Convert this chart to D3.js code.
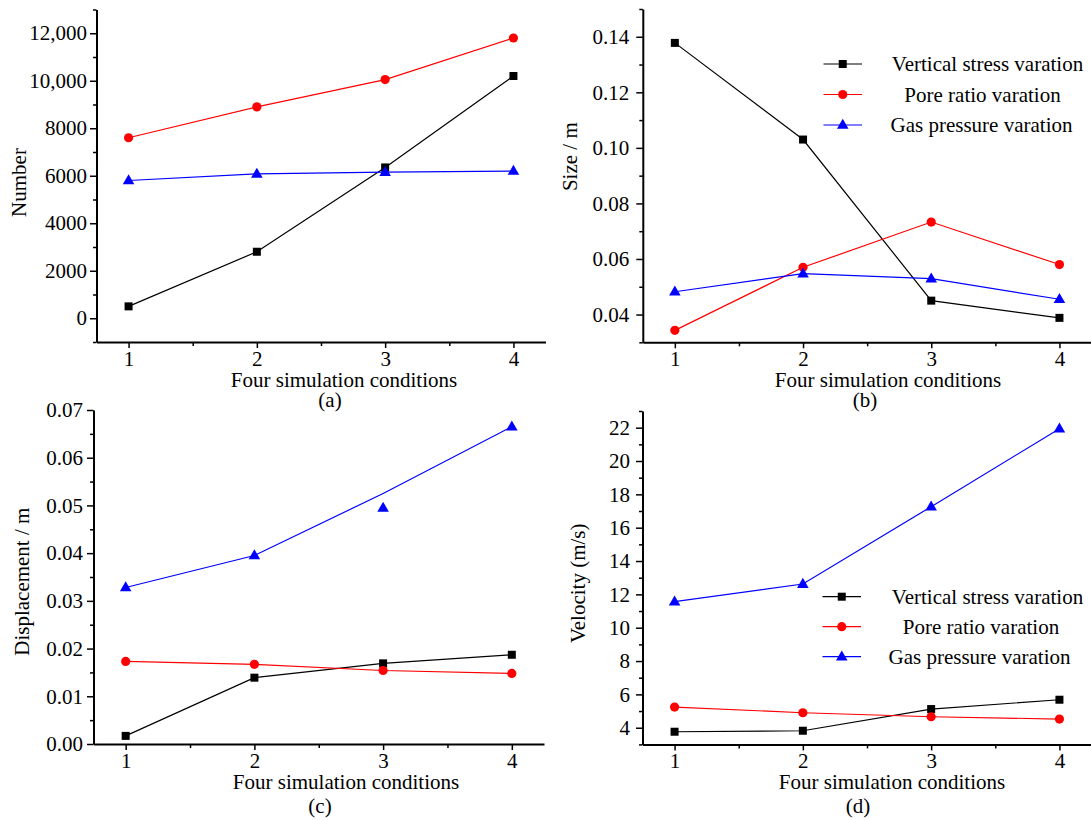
<!DOCTYPE html>
<html>
<head>
<meta charset="utf-8">
<script src="https://cdn.jsdelivr.net/npm/d3@7"></script>
<style>
  html, body { margin: 0; padding: 0; background: #fff; }
  svg { display: block; font-family: "Liberation Serif", "Times New Roman", serif; }
</style>
</head>
<body>
<svg id="chart" width="1091" height="820"></svg>
<script>
// ---------- data ----------
const conditions = [1, 2, 3, 4];
const conditionLabels = ["1", "2", "3", "4"];
const conditionMinor = [1.5, 2.5, 3.5];
const seriesNames = ["Vertical stress varation", "Pore ratio varation", "Gas pressure varation"];
const seriesColors = ["#000000", "#ff0000", "#0000ff"];

// (a) Number
const numberVertical = [500, 2800, 6350, 10200];
const numberPore = [7600, 8900, 10050, 11800];
const numberGas = [5800, 6080, 6150, 6200];
const numberTicks = [0, 2000, 4000, 6000, 8000, 10000, 12000];
const numberTickLabels = ["0", "2000", "4000", "6000", "8000", "10,000", "12,000"];
const numberMinor = [-1000, 1000, 3000, 5000, 7000, 9000, 11000, 13000];

// (b) Size / m
const sizeVertical = [0.1378, 0.103, 0.045, 0.0388];
const sizePore = [0.0343, 0.057, 0.0733, 0.058];
const sizeGas = [0.0482, 0.0547, 0.0529, 0.0455];
const sizeTicks = [0.04, 0.06, 0.08, 0.10, 0.12, 0.14];
const sizeTickLabels = ["0.04", "0.06", "0.08", "0.10", "0.12", "0.14"];
const sizeMinor = [0.03, 0.05, 0.07, 0.09, 0.11, 0.13, 0.15];

// (c) Displacement / m
const dispVertical = [0.0017, 0.0139, 0.0169, 0.0187];
const dispPore = [0.0173, 0.0167, 0.0154, 0.0148];
const dispGasLine = [0.0328, 0.0395, 0.0525, 0.0665];
const dispGasMarks = [0.0328, 0.0395, 0.0495, 0.0665];
const dispTicks = [0, 0.01, 0.02, 0.03, 0.04, 0.05, 0.06, 0.07];
const dispTickLabels = ["0.00", "0.01", "0.02", "0.03", "0.04", "0.05", "0.06", "0.07"];
const dispMinor = [0.005, 0.015, 0.025, 0.035, 0.045, 0.055, 0.065];

// (d) Velocity (m/s)
const velVertical = [3.76, 3.82, 5.12, 5.68];
const velPore = [5.24, 4.9, 4.66, 4.52];
const velGas = [11.56, 12.62, 17.26, 21.94];
const velTicks = [4, 6, 8, 10, 12, 14, 16, 18, 20, 22];
const velTickLabels = ["4", "6", "8", "10", "12", "14", "16", "18", "20", "22"];
const velMinor = [3, 5, 7, 9, 11, 13, 15, 17, 19, 21, 23];

// ---------- layout ----------
const panels = [
  { caption: "(a)", yTitle: "Number", left: 96.5, right: 545.5, top: 9.5, bottom: 342,
    yDomain: [-1000, 13000], yTicks: numberTicks, yLabels: numberTickLabels, yMinor: numberMinor, yPad: 3,
    lines: [numberVertical, numberPore, numberGas], marks: [numberVertical, numberPore, numberGas],
    yTitleX: 19, yTitleY: 182.5, xTitleX: 344, captionX: 330, xTitleY: 387, captionY: 407, legend: null },
  { caption: "(b)", yTitle: "Size / m", left: 642.8, right: 1091.5, top: 9, bottom: 342.3,
    yDomain: [0.03, 0.15], yTicks: sizeTicks, yLabels: sizeTickLabels, yMinor: sizeMinor, yPad: 7,
    lines: [sizeVertical, sizePore, sizeGas], marks: [sizeVertical, sizePore, sizeGas],
    yTitleX: 569.5, yTitleY: 156.7, xTitleX: 888, captionX: 865, xTitleY: 387, captionY: 407,
    legend: { lineX0: 823.5, lineX1: 862, textX: [987.5, 982.5, 981.5], y0: 64, dy: 30.5 } },
  { caption: "(c)", yTitle: "Displacement / m", left: 93.5, right: 544, top: 410, bottom: 744,
    yDomain: [0, 0.07], yTicks: dispTicks, yLabels: dispTickLabels, yMinor: dispMinor, yPad: 4,
    lines: [dispVertical, dispPore, dispGasLine], marks: [dispVertical, dispPore, dispGasMarks],
    yTitleX: 21.5, yTitleY: 581.7, xTitleX: 346, captionX: 320, xTitleY: 789, captionY: 813, legend: null },
  { caption: "(d)", yTitle: "Velocity (m/s)", left: 642.5, right: 1091.5, top: 411, bottom: 744.4,
    yDomain: [3, 23], yTicks: velTicks, yLabels: velTickLabels, yMinor: velMinor, yPad: 6,
    lines: [velVertical, velPore, velGas], marks: [velVertical, velPore, velGas],
    yTitleX: 578, yTitleY: 583.3, xTitleX: 892, captionX: 858, xTitleY: 789, captionY: 813,
    legend: { lineX0: 822.5, lineX1: 861, textX: [987.5, 981, 979.5], y0: 596.7, dy: 30 } }
];

const svg = d3.select("#chart");
const FS = 21;

function drawMarker(g, type, x, y, color) {
  if (type === 0) {
    g.append("rect").attr("x", x - 4).attr("y", y - 4).attr("width", 8).attr("height", 8).attr("fill", color);
  } else if (type === 1) {
    g.append("circle").attr("cx", x).attr("cy", y).attr("r", 4.6).attr("fill", color);
  } else {
    g.append("path").attr("d", d3.symbol(d3.symbolTriangle, 58)())
      .attr("transform", `translate(${x},${y + 0.5})`).attr("fill", color);
  }
}

panels.forEach(p => {
  const x = d3.scaleLinear().domain([0.75, 4.25]).range([p.left, p.right]);
  const y = d3.scaleLinear().domain(p.yDomain).range([p.bottom, p.top]);
  const g = svg.append("g");

  // series lines
  p.lines.forEach((vals, si) => {
    const line = d3.line().x((d, i) => x(conditions[i])).y(d => y(d));
    g.append("path").datum(vals).attr("d", line)
      .attr("fill", "none").attr("stroke", seriesColors[si]).attr("stroke-width", 1.2);
  });
  // markers
  p.marks.forEach((vals, si) => {
    vals.forEach((v, i) => drawMarker(g, si, x(conditions[i]), y(v), seriesColors[si]));
  });

  // x axis
  const xAxis = d3.axisBottom(x).tickValues(conditions).tickFormat((d, i) => conditionLabels[i])
    .tickSizeInner(6).tickSizeOuter(0).tickPadding(4);
  const xg = g.append("g").attr("transform", `translate(0,${p.bottom})`).call(xAxis);
  const xMinorAxis = d3.axisBottom(x).tickValues(conditionMinor).tickFormat("").tickSizeInner(4).tickSizeOuter(0);
  const xmg = g.append("g").attr("transform", `translate(0,${p.bottom})`).call(xMinorAxis);
  xmg.select(".domain").remove();

  // y axis
  const yAxis = d3.axisLeft(y).tickValues(p.yTicks).tickFormat((d, i) => p.yLabels[i])
    .tickSizeInner(6.5).tickSizeOuter(0).tickPadding(p.yPad);
  const yg = g.append("g").attr("transform", `translate(${p.left},0)`).call(yAxis);
  const yMinorAxis = d3.axisLeft(y).tickValues(p.yMinor).tickFormat("").tickSizeInner(3.5).tickSizeOuter(0);
  const ymg = g.append("g").attr("transform", `translate(${p.left},0)`).call(yMinorAxis);
  ymg.select(".domain").remove();

  [xg, yg].forEach(a => {
    a.select(".domain").attr("stroke", "#000").attr("stroke-width", 2);
    a.selectAll(".tick text").attr("font-size", FS).attr("font-family", "Liberation Serif").attr("fill", "#000");
  });
  xg.selectAll(".tick text").attr("dy", 0).attr("y", 24);
  [xg, yg, xmg, ymg].forEach(a => a.selectAll(".tick line").attr("stroke", "#000").attr("stroke-width", 1.5));

  // titles
  g.append("text").attr("x", p.xTitleX).attr("y", p.xTitleY).attr("text-anchor", "middle")
    .attr("font-size", FS).text("Four simulation conditions");
  g.append("text").attr("x", p.captionX).attr("y", p.captionY).attr("text-anchor", "middle")
    .attr("font-size", FS).text(p.caption);
  g.append("text").attr("transform", `translate(${p.yTitleX},${p.yTitleY}) rotate(-90)`)
    .attr("text-anchor", "middle").attr("dy", "0.35em").attr("font-size", FS).text(p.yTitle);

  // legend
  if (p.legend) {
    const L = p.legend;
    seriesNames.forEach((name, si) => {
      const ly = L.y0 + si * L.dy;
      g.append("line").attr("x1", L.lineX0).attr("x2", L.lineX1).attr("y1", ly).attr("y2", ly)
        .attr("stroke", seriesColors[si]).attr("stroke-width", 1.2);
      drawMarker(g, si, (L.lineX0 + L.lineX1) / 2, ly, seriesColors[si]);
      g.append("text").attr("x", L.textX[si]).attr("y", ly).attr("dy", "0.35em").attr("text-anchor", "middle")
        .attr("font-size", FS).text(name);
    });
  }
});
</script>
</body>
</html>
